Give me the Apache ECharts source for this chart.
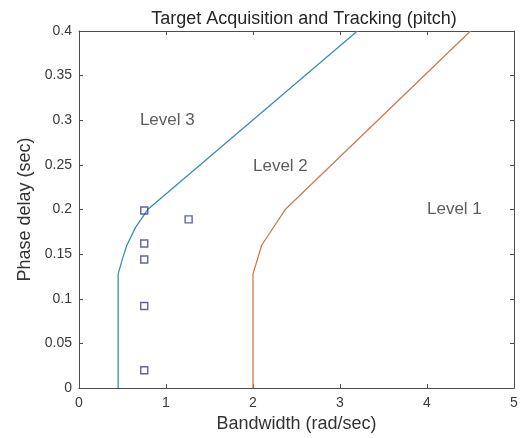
<!DOCTYPE html>
<html>
<head>
<meta charset="utf-8">
<script src="https://cdn.jsdelivr.net/npm/echarts@6/dist/echarts.min.js"></script>
<style>
  html, body { margin: 0; padding: 0; background: #fff; }
  #chart { width: 521px; height: 438px; }
</style>
</head>
<body>
<div id="chart"></div>
<script>
// Level 2/3 boundary (bandwidth rad/sec, phase delay sec)
const level23X = [0.45, 0.45, 0.5, 0.55, 0.65, 0.79, 3.2];
const level23Y = [0, 0.128, 0.145, 0.16, 0.18, 0.2, 0.4];
// Level 1/2 boundary
const level12X = [2.0, 2.0, 2.1, 2.37, 4.5];
const level12Y = [0, 0.128, 0.16, 0.2, 0.4];
// Measured configurations
const testX = [0.75, 1.26, 0.75, 0.75, 0.75, 0.75];
const testY = [0.199, 0.189, 0.162, 0.144, 0.092, 0.02];
// Region labels
const regionNames = ['Level 3', 'Level 2', 'Level 1'];
const regionX = [0.7, 2.0, 4.0];
const regionY = [0.3, 0.248, 0.2];

const pairs = (xs, ys) => xs.map((x, i) => [x, ys[i]]);
const font = 'Liberation Sans, Arial, sans-serif';
const axisColor = '#4d4d4d';

const chart = echarts.init(document.getElementById('chart'), null, { renderer: 'canvas' });

const baseAxis = {
  axisLine: { show: true, onZero: false, lineStyle: { color: axisColor, width: 1 } },
  axisTick: { show: true, inside: true, length: 4, lineStyle: { color: axisColor } },
  splitLine: { show: false },
  axisLabel: { color: '#3a3a3a', fontFamily: font, fontSize: 14 }
};

chart.setOption({
  animation: false,
  backgroundColor: '#fff',
  title: {
    text: 'Target Acquisition and Tracking (pitch)',
    left: 299, top: 5, textAlign: 'center',
    textStyle: { fontFamily: font, fontSize: 18, fontWeight: 'normal', color: '#262626' }
  },
  grid: { left: 79, top: 31, right: 7, bottom: 46 },
  xAxis: [
    Object.assign({}, baseAxis, {
      type: 'value', min: 0, max: 5, interval: 1, position: 'bottom',
      name: 'Bandwidth (rad/sec)', nameLocation: 'middle', nameGap: 26,
      nameTextStyle: { fontFamily: font, fontSize: 18, color: '#333' },
      axisLabel: Object.assign({}, baseAxis.axisLabel, { margin: 8 })
    }),
    Object.assign({}, baseAxis, {
      type: 'value', min: 0, max: 5, interval: 1, position: 'top',
      axisLabel: { show: false }
    })
  ],
  yAxis: [
    Object.assign({}, baseAxis, {
      type: 'value', min: 0, max: 0.4, interval: 0.05, position: 'left',
      name: 'Phase delay (sec)', nameLocation: 'middle', nameGap: 42,
      nameTextStyle: { fontFamily: font, fontSize: 18, color: '#333' },
      axisLabel: Object.assign({}, baseAxis.axisLabel, { margin: 7 })
    }),
    Object.assign({}, baseAxis, {
      type: 'value', min: 0, max: 0.4, interval: 0.05, position: 'right',
      axisLabel: { show: false }
    })
  ],
  series: [
    {
      type: 'line', data: pairs(level23X, level23Y), showSymbol: false,
      lineStyle: { color: '#3a8db5', width: 1.3 }, z: 3
    },
    {
      type: 'line', data: pairs(level12X, level12Y), showSymbol: false,
      lineStyle: { color: '#cf7a4f', width: 1.3 }, z: 3
    },
    {
      type: 'scatter', data: pairs(testX, testY), symbol: 'rect', symbolSize: 7,
      itemStyle: { color: 'transparent', borderColor: '#3a3a96', borderWidth: 1.4 }, z: 4
    },
    {
      type: 'scatter', symbolSize: 0, silent: true,
      data: regionNames.map((n, i) => ({ name: n, value: [regionX[i], regionY[i]] })),
      label: {
        show: true, formatter: p => p.name, position: [0, 0],
        align: 'left', verticalAlign: 'middle',
        fontFamily: font, fontSize: 17, color: '#333'
      }
    }
  ]
});
</script>
</body>
</html>
